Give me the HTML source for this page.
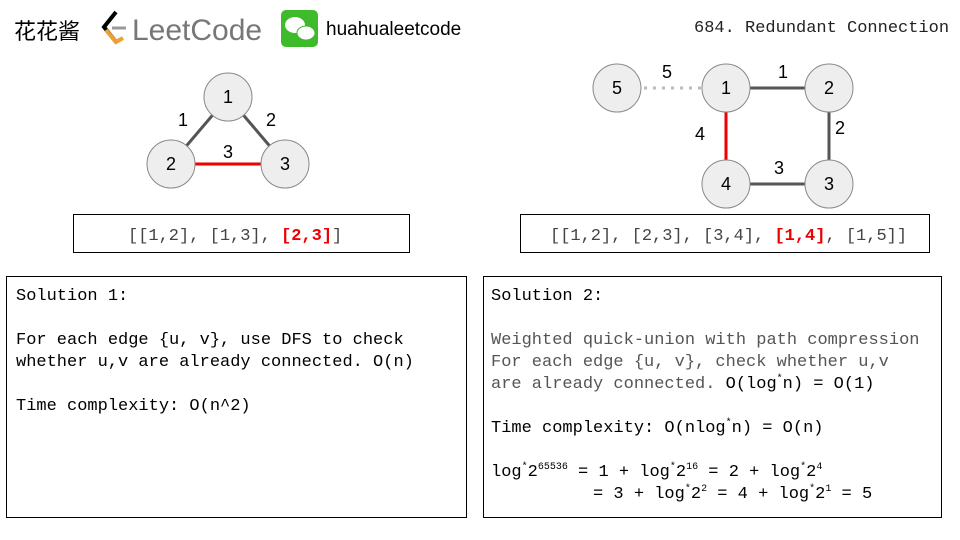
<!DOCTYPE html>
<html><head><meta charset="utf-8"><style>
body{margin:0;width:960px;height:540px;background:#fff;position:relative;overflow:hidden;font-family:"Liberation Sans",sans-serif}
.m{font-family:"Liberation Mono",monospace;font-size:17px;position:absolute;white-space:pre;color:#000;line-height:22px}
.box{position:absolute;border:1px solid #000;box-sizing:border-box}
sup{font-size:10px;vertical-align:7px;line-height:0}
</style></head><body>
<div style="position:absolute;left:14px;top:14px;font-family:'Noto Sans CJK SC',sans-serif;font-size:22px">花花酱</div>
<svg style="position:absolute;left:0;top:0" width="960" height="540">
<path d="M116 12 L104 27 L116 42" stroke="#000" stroke-width="4" fill="none"/>
<path d="M106 30 L116 42 L123 38" stroke="#f0a030" stroke-width="4" fill="none"/>
<line x1="112" y1="28" x2="126" y2="28" stroke="#999" stroke-width="3"/>
<text x="132" y="40" font-family="Liberation Sans" font-size="30" fill="#777">LeetCode</text>
<rect x="281" y="10" width="37" height="37" rx="5" fill="#3dbb2b"/>
<ellipse cx="295" cy="25" rx="10" ry="8" fill="#fff"/>
<ellipse cx="306" cy="33" rx="9" ry="7" fill="#fff" stroke="#3dbb2b"/>
<text x="326" y="35" font-family="Liberation Sans" font-size="19">huahualeetcode</text>
<g stroke-width="3">
<line x1="228" y1="97" x2="171" y2="164" stroke="#555"/>
<line x1="228" y1="97" x2="285" y2="164" stroke="#555"/>
<line x1="171" y1="164" x2="285" y2="164" stroke="#e00"/>
<line x1="617" y1="88" x2="726" y2="88" stroke="#bbb" stroke-dasharray="3,6"/>
<line x1="726" y1="88" x2="829" y2="88" stroke="#555"/>
<line x1="829" y1="88" x2="829" y2="184" stroke="#555"/>
<line x1="726" y1="184" x2="829" y2="184" stroke="#555"/>
<line x1="726" y1="88" x2="726" y2="184" stroke="#e00"/>
</g>
<g fill="#eee" stroke="#888" stroke-width="1">
<circle cx="228" cy="97" r="24"/><circle cx="171" cy="164" r="24"/><circle cx="285" cy="164" r="24"/>
<circle cx="617" cy="88" r="24"/><circle cx="726" cy="88" r="24"/><circle cx="829" cy="88" r="24"/>
<circle cx="726" cy="184" r="24"/><circle cx="829" cy="184" r="24"/>
</g>
<g font-family="Liberation Sans" font-size="18" text-anchor="middle">
<text x="228" y="103">1</text><text x="171" y="170">2</text><text x="285" y="170">3</text>
<text x="617" y="94">5</text><text x="726" y="94">1</text><text x="829" y="94">2</text>
<text x="726" y="190">4</text><text x="829" y="190">3</text>
<text x="183" y="126">1</text><text x="271" y="126">2</text><text x="228" y="158">3</text>
<text x="667" y="78">5</text><text x="783" y="78">1</text><text x="840" y="134">2</text>
<text x="700" y="140">4</text><text x="779" y="174">3</text>
</g>
</svg>
<div class="m" style="left:694px;top:18px;color:#222">684. Redundant Connection</div>
<div class="box" style="left:73px;top:214px;width:337px;height:39px"></div>
<div class="m" style="left:128px;top:226px;color:#444">[[1,2], [1,3], <b style="color:#e00">[2,3]</b>]</div>
<div class="box" style="left:520px;top:214px;width:410px;height:39px"></div>
<div class="m" style="left:550px;top:226px;color:#444">[[1,2], [2,3], [3,4], <b style="color:#e00">[1,4]</b>, [1,5]]</div>
<div class="box" style="left:6px;top:276px;width:461px;height:242px"></div>
<div class="m" style="left:16px;top:286px">Solution 1:

For each edge {u, v}, use DFS to check
whether u,v are already connected. O(n)

Time complexity: O(n^2)</div>
<div class="box" style="left:483px;top:276px;width:459px;height:242px"></div>
<div class="m" style="left:491px;top:286px">Solution 2:

<span style="color:#555">Weighted quick-union with path compression
For each edge {u, v}, check whether u,v
are already connected. </span>O(log<sup>*</sup>n) = O(1)

Time complexity: O(nlog<sup>*</sup>n) = O(n)

log<sup>*</sup>2<sup>65536</sup> = 1 + log<sup>*</sup>2<sup>16</sup> = 2 + log<sup>*</sup>2<sup>4</sup>
          = 3 + log<sup>*</sup>2<sup>2</sup> = 4 + log<sup>*</sup>2<sup>1</sup> = 5</div>
</body></html>
